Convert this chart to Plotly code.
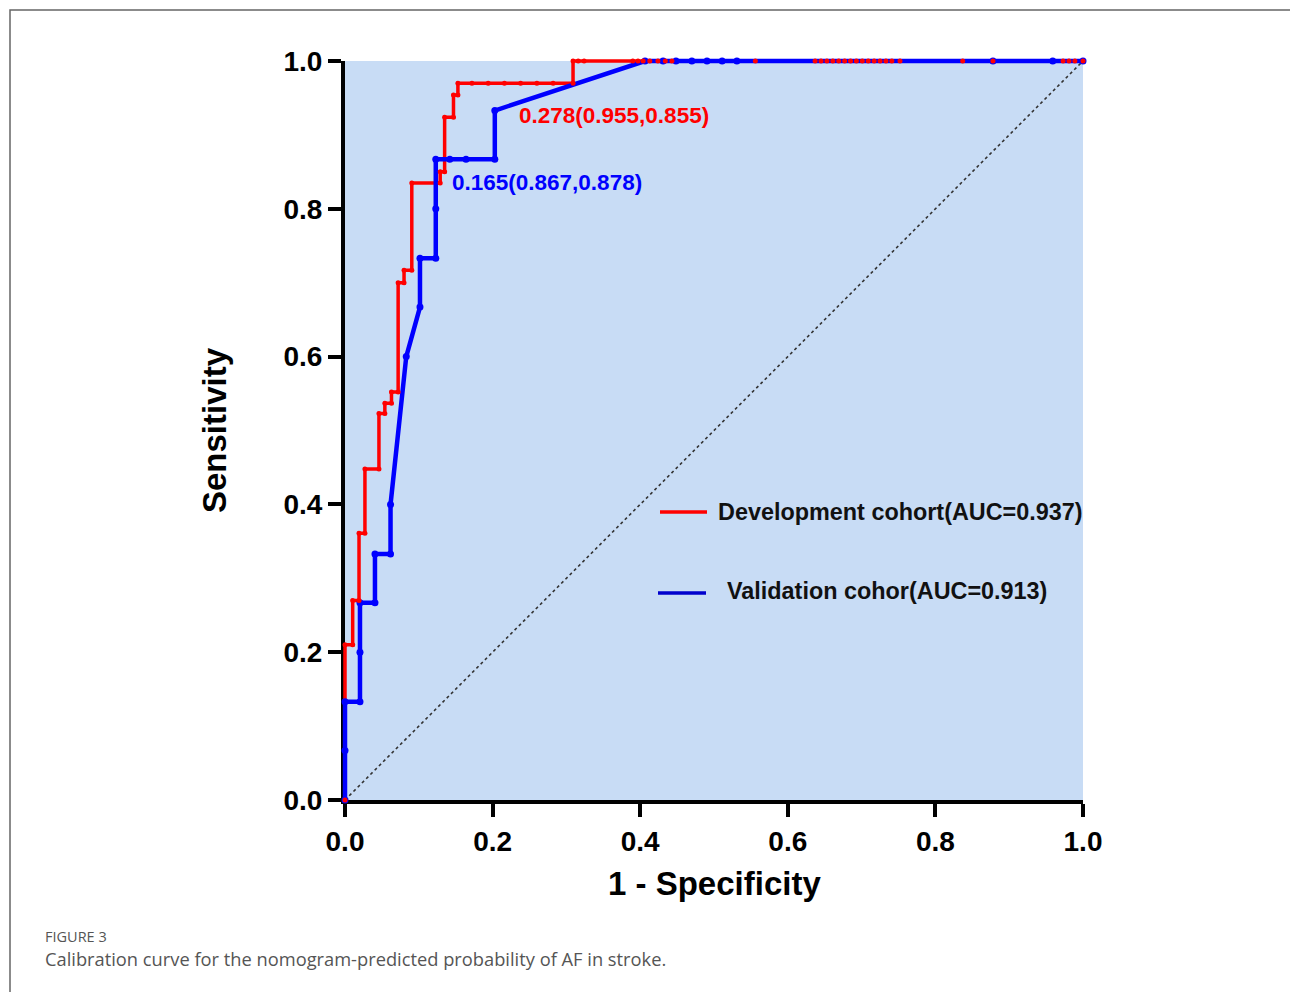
import plotly.graph_objects as go

# ---------------- data ----------------
dev_fpr = [0, 0, 0.0104, 0.0104, 0.019, 0.019, 0.027, 0.027, 0.046, 0.046, 0.054, 0.054,
           0.063, 0.063, 0.072, 0.072, 0.080, 0.080, 0.0905, 0.0905, 0.129, 0.129, 0.135, 0.135,
           0.147, 0.147, 0.153, 0.153, 0.172, 0.194, 0.216, 0.238, 0.260, 0.282, 0.309, 0.309,
           0.316, 0.324, 0.390, 0.397, 0.404, 0.413, 0.424, 0.434, 0.443, 0.556,
           0.637, 0.645, 0.653, 0.661, 0.669, 0.677, 0.685, 0.693, 0.701, 0.709, 0.717,
           0.725, 0.733, 0.741, 0.752, 0.837, 0.878, 0.973, 0.981, 0.989, 1.0]
dev_tpr = [0, 0.21, 0.21, 0.27, 0.27, 0.361, 0.361, 0.448, 0.448, 0.523, 0.523, 0.537,
           0.537, 0.552, 0.552, 0.70, 0.70, 0.717, 0.717, 0.835, 0.835, 0.85, 0.85, 0.924,
           0.924, 0.954, 0.954, 0.970, 0.970, 0.970, 0.970, 0.970, 0.970, 0.970, 0.970, 1.0,
           1.0, 1.0, 1.0, 1.0, 1.0, 1.0, 1.0, 1.0, 1.0, 1.0,
           1.0, 1.0, 1.0, 1.0, 1.0, 1.0, 1.0, 1.0, 1.0, 1.0, 1.0,
           1.0, 1.0, 1.0, 1.0, 1.0, 1.0, 1.0, 1.0, 1.0, 1.0]

val_fpr = [0, 0, 0, 0.0203, 0.0203, 0.0203, 0.0406, 0.0406, 0.0617, 0.0617, 0.083, 0.1016,
           0.1016, 0.123, 0.123, 0.123, 0.142, 0.164, 0.203, 0.203, 0.4065, 0.431, 0.4485,
           0.470, 0.4905, 0.511, 0.531, 0.878, 0.959, 1.0]
val_tpr = [0, 0.067, 0.133, 0.133, 0.2, 0.267, 0.267, 0.333, 0.333, 0.4, 0.6, 0.667,
           0.733, 0.733, 0.8, 0.867, 0.867, 0.867, 0.867, 0.933, 1.0, 1.0, 1.0,
           1.0, 1.0, 1.0, 1.0, 1.0, 1.0, 1.0]

ref_x = [0, 1]
ref_y = [0, 1]

tick_vals = [0, 0.2, 0.4, 0.6, 0.8, 1.0]
tick_text = ["0.0", "0.2", "0.4", "0.6", "0.8", "1.0"]

dev_label = "Development cohort(AUC=0.937)"
val_label = "Validation cohor(AUC=0.913)"
dev_cut = "0.278(0.955,0.855)"
val_cut = "0.165(0.867,0.878)"
dev_cut_pos = (0.233, 0.926)
val_cut_pos = (0.142, 0.835)

# ---------------- layout geometry ----------------
W, H = 1290, 992
L, R, T, B = 339, 201, 55, 186        # outer (data) subplot
PW, PH = W - L - R, H - T - B          # 750 x 751
PAD_X, PAD_Y = 6, 6                    # inset of the visible axes
ex = PAD_X / (PW - 2 * PAD_X)
ey = PAD_Y / (PH - 2 * PAD_Y)

FONT = "Liberation Sans, Arial, sans-serif"
RED = "#ff0000"
BLUE = "#0000ff"
BG = "#c8dcf5"

fig = go.Figure()

# reference diagonal on the visible axes
fig.add_trace(go.Scatter(x=ref_x, y=ref_y, mode="lines", xaxis="x", yaxis="y",
                         line=dict(color="#333333", width=1.6, dash="dot"),
                         hoverinfo="skip", showlegend=False))

# curves on the padded overlay axes (so lines on the edges are not clipped)
fig.add_trace(go.Scatter(x=dev_fpr, y=dev_tpr, mode="lines", xaxis="x2", yaxis="y2",
                         line=dict(color=RED, width=3.5),
                         name=dev_label, showlegend=False, cliponaxis=False))
fig.add_trace(go.Scatter(x=val_fpr, y=val_tpr, mode="lines+markers", xaxis="x2", yaxis="y2",
                         line=dict(color=BLUE, width=4.5),
                         marker=dict(color=BLUE, size=7),
                         name=val_label, showlegend=False, cliponaxis=False))
fig.add_trace(go.Scatter(x=dev_fpr, y=dev_tpr, mode="markers", xaxis="x2", yaxis="y2",
                         marker=dict(color=RED, size=5),
                         name=dev_label, showlegend=False, cliponaxis=False))

axis_common = dict(
    showline=True, linecolor="black", linewidth=4,
    ticks="outside", ticklen=13, tickwidth=4, tickcolor="black",
    tickvals=tick_vals, ticktext=tick_text,
    tickfont=dict(family=FONT, size=28, color="black", weight="bold"),
    showgrid=False, zeroline=False, range=[0, 1], fixedrange=True,
)

fig.update_layout(
    width=W, height=H,
    margin=dict(l=L, r=R, t=T, b=B, pad=0),
    paper_bgcolor="white",
    plot_bgcolor="rgba(0,0,0,0)",
    xaxis=dict(**axis_common, domain=[PAD_X / PW, 1 - PAD_X / PW], anchor="y"),
    yaxis=dict(**axis_common, domain=[PAD_Y / PH, 1 - PAD_Y / PH], anchor="x"),
    xaxis2=dict(visible=False, range=[-ex, 1 + ex], domain=[0, 1], anchor="y2", fixedrange=True),
    yaxis2=dict(visible=False, range=[-ey, 1 + ey], domain=[0, 1], anchor="x2", fixedrange=True),
    showlegend=False,
)

def px2paper(px, py):
    return (px - L) / PW, (H - B - py) / PH

shapes = []
# light blue plotting background
shapes.append(dict(type="rect", xref="x", yref="y", x0=0, y0=0, x1=1, y1=1,
                   fillcolor=BG, line=dict(width=0), layer="below"))
# figure frame
fx0, fy1 = px2paper(10, 10)
fx1, fy0 = px2paper(1300, 1002)
shapes.append(dict(type="rect", xref="paper", yref="paper", x0=fx0, y0=fy0, x1=fx1, y1=fy1,
                   line=dict(color="#666666", width=1.5), fillcolor="rgba(0,0,0,0)", layer="above"))
# legend samples
a0, ya = px2paper(660, 512)
a1, _ = px2paper(707, 512)
shapes.append(dict(type="line", xref="paper", yref="paper", x0=a0, x1=a1, y0=ya, y1=ya,
                   line=dict(color=RED, width=3.5)))
b0, yb = px2paper(658, 593)
b1, _ = px2paper(706, 593)
shapes.append(dict(type="line", xref="paper", yref="paper", x0=b0, x1=b1, y0=yb, y1=yb,
                   line=dict(color="#0000cc", width=3.5)))
fig.update_layout(shapes=shapes)

ann = []
bold = dict(family=FONT, weight="bold")
ann.append(dict(x=dev_cut_pos[0], y=dev_cut_pos[1], xref="x2", yref="y2", text=dev_cut,
                showarrow=False, xanchor="left", yanchor="middle",
                font=dict(**bold, size=22.5, color=RED)))
ann.append(dict(x=val_cut_pos[0], y=val_cut_pos[1], xref="x2", yref="y2", text=val_cut,
                showarrow=False, xanchor="left", yanchor="middle",
                font=dict(**bold, size=22.5, color=BLUE)))
lx, ly = px2paper(716, 512)
ann.append(dict(x=lx, y=ly, xref="paper", yref="paper", text=dev_label, showarrow=False,
                xanchor="left", yanchor="middle", font=dict(**bold, size=23.4, color="#111111")))
lx, ly = px2paper(725, 591)
ann.append(dict(x=lx, y=ly, xref="paper", yref="paper", text=val_label, showarrow=False,
                xanchor="left", yanchor="middle", font=dict(**bold, size=23.4, color="#111111")))
# axis titles
tx, ty = px2paper(714, 883)
ann.append(dict(x=tx, y=ty, xref="paper", yref="paper", text="1 - Specificity", showarrow=False,
                xanchor="center", yanchor="middle", font=dict(**bold, size=33, color="black")))
tx, ty = px2paper(215, 430)
ann.append(dict(x=tx, y=ty, xref="paper", yref="paper", text="Sensitivity", showarrow=False,
                textangle=-90, xanchor="center", yanchor="middle",
                font=dict(**bold, size=33, color="black")))
# caption
cx, cy = px2paper(43, 936)
ann.append(dict(x=cx, y=cy, xref="paper", yref="paper", text="FIGURE 3", showarrow=False,
                xanchor="left", yanchor="middle",
                font=dict(family="Open Sans, sans-serif", size=14.5, color="#555555")))
cx, cy = px2paper(43, 959)
ann.append(dict(x=cx, y=cy, xref="paper", yref="paper",
                text="Calibration curve for the nomogram-predicted probability of AF in stroke.",
                showarrow=False, xanchor="left", yanchor="middle",
                font=dict(family="Open Sans, sans-serif", size=18.3, color="#555555")))
fig.update_layout(annotations=ann)

fig.write_html("out.html")
